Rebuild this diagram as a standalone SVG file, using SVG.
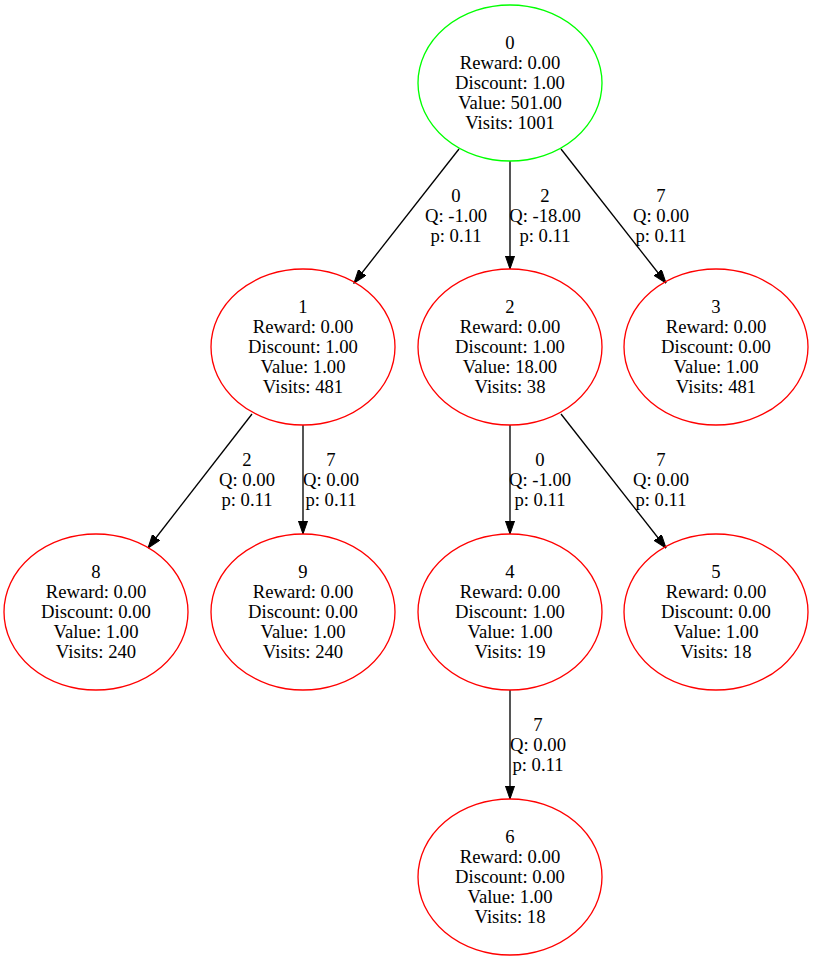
<svg xmlns="http://www.w3.org/2000/svg" width="814" height="961" viewBox="0 0 814 961">
  <style>
    .bg { fill: #ffffff; }
    .node ellipse { fill: none; stroke-width: 1.33; }
    .root ellipse { stroke: #00ff00; }
    .child ellipse { stroke: #ff0000; }
    text { font-family: "Liberation Serif", "Times New Roman", serif; font-size: 18.67px; text-anchor: middle; fill: #000000; }
    .edge line { stroke: #000000; stroke-width: 1.33; marker-end: url(#arrow); }
  </style>
  <defs>
    <marker id="arrow" markerUnits="userSpaceOnUse" markerWidth="14" markerHeight="10" refX="13.3" refY="4.67" orient="auto">
      <path d="M0,0 L13.3,4.67 L0,9.33 Z" fill="#000000" stroke="#000000" stroke-width="1"/>
    </marker>
  </defs>
  <rect class="bg" x="0" y="0" width="814" height="961"/>

  <!-- connectors -->
  <g id="edges">
    <g class="edge" id="e0-1">
      <line x1="459" y1="149" x2="354" y2="283"/>
      <text x="456" y="201.5">0</text>
      <text x="456" y="221.5">Q: -1.00</text>
      <text x="456" y="241.5">p: 0.11</text>
    </g>
    <g class="edge" id="e0-2">
      <line x1="510" y1="161" x2="510" y2="269"/>
      <text x="545" y="201.5">2</text>
      <text x="545" y="221.5">Q: -18.00</text>
      <text x="545" y="241.5">p: 0.11</text>
    </g>
    <g class="edge" id="e0-3">
      <line x1="561" y1="149" x2="666" y2="283"/>
      <text x="661" y="201.5">7</text>
      <text x="661" y="221.5">Q: 0.00</text>
      <text x="661" y="241.5">p: 0.11</text>
    </g>
    <g class="edge" id="e1-8">
      <line x1="252" y1="414" x2="148" y2="548"/>
      <text x="247" y="466">2</text>
      <text x="247" y="486">Q: 0.00</text>
      <text x="247" y="506">p: 0.11</text>
    </g>
    <g class="edge" id="e1-9">
      <line x1="303" y1="425" x2="303" y2="534"/>
      <text x="331" y="466">7</text>
      <text x="331" y="486">Q: 0.00</text>
      <text x="331" y="506">p: 0.11</text>
    </g>
    <g class="edge" id="e2-4">
      <line x1="510" y1="425" x2="510" y2="534"/>
      <text x="540" y="466">0</text>
      <text x="540" y="486">Q: -1.00</text>
      <text x="540" y="506">p: 0.11</text>
    </g>
    <g class="edge" id="e2-5">
      <line x1="561" y1="414" x2="666" y2="548"/>
      <text x="661" y="466">7</text>
      <text x="661" y="486">Q: 0.00</text>
      <text x="661" y="506">p: 0.11</text>
    </g>
    <g class="edge" id="e4-6">
      <line x1="510" y1="690" x2="510" y2="799"/>
      <text x="538" y="730.5">7</text>
      <text x="538" y="750.5">Q: 0.00</text>
      <text x="538" y="770.5">p: 0.11</text>
    </g>
  </g>

  <!-- nodes -->
  <g id="node0" class="node root">
    <ellipse cx="510" cy="83" rx="92" ry="78"/>
    <text x="510" y="49">0</text>
    <text x="510" y="69">Reward: 0.00</text>
    <text x="510" y="89">Discount: 1.00</text>
    <text x="510" y="109">Value: 501.00</text>
    <text x="510" y="129">Visits: 1001</text>
  </g>
  <g id="node1" class="node child">
    <ellipse cx="303" cy="347" rx="92" ry="78"/>
    <text x="303" y="313">1</text>
    <text x="303" y="333">Reward: 0.00</text>
    <text x="303" y="353">Discount: 1.00</text>
    <text x="303" y="373">Value: 1.00</text>
    <text x="303" y="393">Visits: 481</text>
  </g>
  <g id="node2" class="node child">
    <ellipse cx="510" cy="347" rx="92" ry="78"/>
    <text x="510" y="313">2</text>
    <text x="510" y="333">Reward: 0.00</text>
    <text x="510" y="353">Discount: 1.00</text>
    <text x="510" y="373">Value: 18.00</text>
    <text x="510" y="393">Visits: 38</text>
  </g>
  <g id="node3" class="node child">
    <ellipse cx="716" cy="347" rx="92" ry="78"/>
    <text x="716" y="313">3</text>
    <text x="716" y="333">Reward: 0.00</text>
    <text x="716" y="353">Discount: 0.00</text>
    <text x="716" y="373">Value: 1.00</text>
    <text x="716" y="393">Visits: 481</text>
  </g>
  <g id="node8" class="node child">
    <ellipse cx="96" cy="612" rx="92" ry="78"/>
    <text x="96" y="578">8</text>
    <text x="96" y="598">Reward: 0.00</text>
    <text x="96" y="618">Discount: 0.00</text>
    <text x="96" y="638">Value: 1.00</text>
    <text x="96" y="658">Visits: 240</text>
  </g>
  <g id="node9" class="node child">
    <ellipse cx="303" cy="612" rx="92" ry="78"/>
    <text x="303" y="578">9</text>
    <text x="303" y="598">Reward: 0.00</text>
    <text x="303" y="618">Discount: 0.00</text>
    <text x="303" y="638">Value: 1.00</text>
    <text x="303" y="658">Visits: 240</text>
  </g>
  <g id="node4" class="node child">
    <ellipse cx="510" cy="612" rx="92" ry="78"/>
    <text x="510" y="578">4</text>
    <text x="510" y="598">Reward: 0.00</text>
    <text x="510" y="618">Discount: 1.00</text>
    <text x="510" y="638">Value: 1.00</text>
    <text x="510" y="658">Visits: 19</text>
  </g>
  <g id="node5" class="node child">
    <ellipse cx="716" cy="612" rx="92" ry="78"/>
    <text x="716" y="578">5</text>
    <text x="716" y="598">Reward: 0.00</text>
    <text x="716" y="618">Discount: 0.00</text>
    <text x="716" y="638">Value: 1.00</text>
    <text x="716" y="658">Visits: 18</text>
  </g>
  <g id="node6" class="node child">
    <ellipse cx="510" cy="877" rx="92" ry="78"/>
    <text x="510" y="843">6</text>
    <text x="510" y="863">Reward: 0.00</text>
    <text x="510" y="883">Discount: 0.00</text>
    <text x="510" y="903">Value: 1.00</text>
    <text x="510" y="923">Visits: 18</text>
  </g>
</svg>
